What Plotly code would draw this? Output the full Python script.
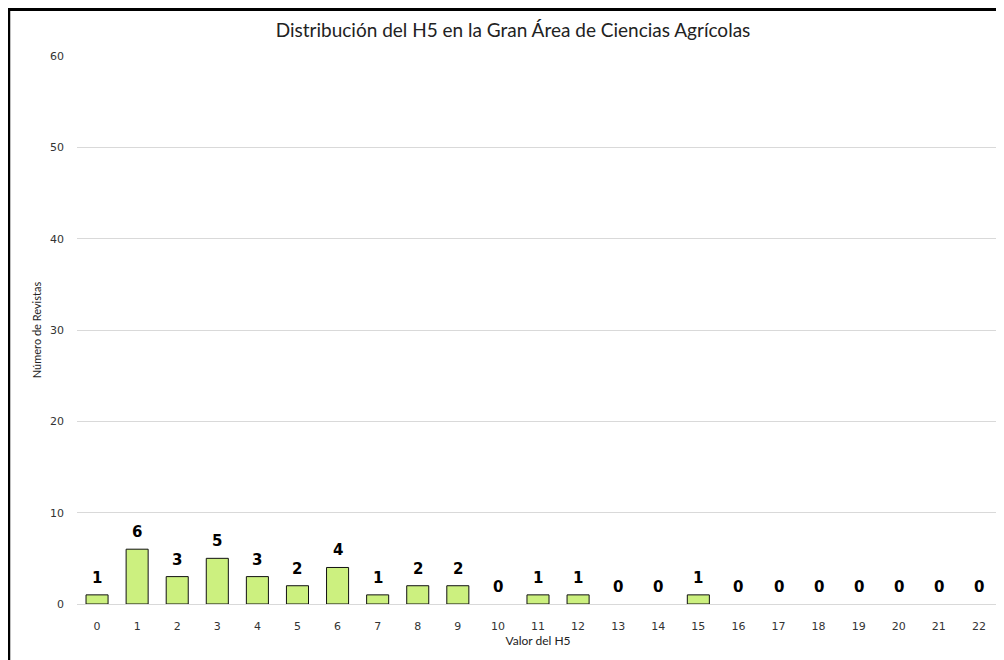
import plotly.graph_objects as go

h5_values = [str(i) for i in range(23)]
revistas = [1, 6, 3, 5, 3, 2, 4, 1, 2, 2, 0, 1, 1, 0, 0, 1, 0, 0, 0, 0, 0, 0, 0]
y_ticks = [0, 10, 20, 30, 40, 50, 60]

W, H = 1004, 660
ML, MR, MT, MB = 69, 13, 48, 64
pw = W - ML - MR
ph = H - MT - MB

def px(x):
    return (x - ML) / pw

def py(y):
    return (H - MB - y) / ph

fig = go.Figure()
fig.add_trace(go.Bar(
    x=h5_values, y=revistas,
    marker=dict(color="#CCF07F",
                line=dict(color="#111111", width=[1 if v > 0 else 0 for v in revistas])),
    hoverinfo="x+y",
))

for cat, v in zip(h5_values, revistas):
    fig.add_annotation(x=cat, y=v, text=str(v), showarrow=False,
                       yanchor="bottom", yshift=6,
                       font=dict(family="DejaVu Sans", size=15, color="#000000", weight="bold"))

fig.update_layout(
    width=W, height=H,
    margin=dict(l=ML, r=MR, t=MT, b=MB),
    paper_bgcolor="white", plot_bgcolor="white",
    bargap=0.45,
    showlegend=False,
    title=dict(text="Distribución del H5 en la Gran Área de Ciencias Agrícolas",
               x=0.503, xref="container", xanchor="center", y=1 - 22 / H, yanchor="middle",
               font=dict(family="Lato", size=19, color="#222222")),
    xaxis=dict(
        type="category",
        tickfont=dict(family="DejaVu Sans", size=11, color="#333333"),
        ticks="", showgrid=False, showline=False, ticklabelstandoff=14,
        title=dict(text="Valor del H5", font=dict(family="Lato", size=12, color="#222222"), standoff=4),
    ),
    yaxis=dict(
        range=[0, 60], tickvals=y_ticks,
        tickfont=dict(family="DejaVu Sans", size=11, color="#333333"),
        showgrid=True, gridcolor="#D9D9D9", gridwidth=1,
        zeroline=True, zerolinecolor="#D9D9D9", zerolinewidth=1,
        ticks="", ticklen=0, showline=False, ticklabelstandoff=12,
        title=dict(text="Número de Revistas", font=dict(family="Lato", size=11, color="#222222"), standoff=6),
    ),
    shapes=[
        dict(type="line", xref="paper", yref="paper",
             x0=px(1), x1=px(1), y0=py(H + 5), y1=py(1.5),
             line=dict(color="black", width=2.5)),
        dict(type="line", xref="paper", yref="paper",
             x0=px(0), x1=px(W + 5), y0=py(1.5), y1=py(1.5),
             line=dict(color="black", width=3)),
    ],
)

fig.write_html("out.html")
